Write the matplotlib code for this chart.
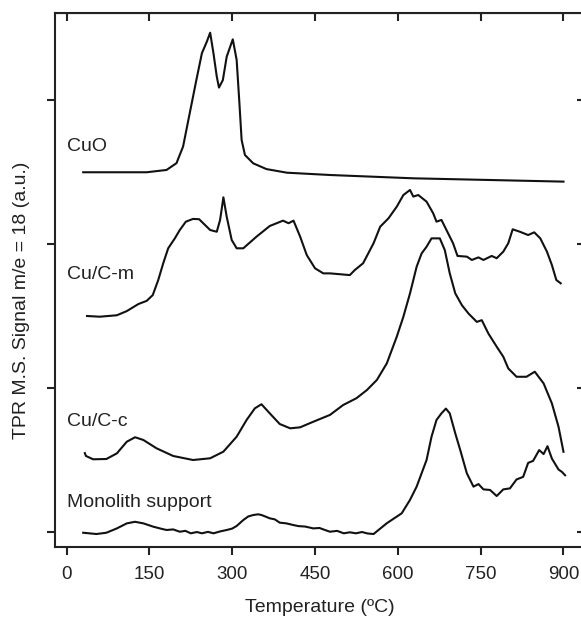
"""TPR profiles (m/e = 18) for CuO, Cu/C-m, Cu/C-c and the bare monolith."""

import matplotlib

matplotlib.use("Agg")
import matplotlib.pyplot as plt

plt.rcParams["font.family"] = ["Liberation Sans", "DejaVu Sans"]

# values; each curve already carries its vertical offset
cuo_temp = [30, 84, 145, 181, 199, 211, 223, 235, 245, 254, 260, 266, 272, 276,
            283, 290, 301, 308, 313, 317, 323, 338, 362, 399, 477, 628, 900]
cuo_signal = [2.50, 2.50, 2.50, 2.516, 2.563, 2.679, 2.91, 3.14, 3.326, 3.407,
              3.469, 3.326, 3.164, 3.088, 3.14, 3.303, 3.423, 3.28, 2.979,
              2.724, 2.62, 2.562, 2.522, 2.497, 2.481, 2.458, 2.435]

cucm_temp = [37, 60, 91, 109, 130, 145, 156, 166, 175, 184, 196, 205, 216, 229,
             240, 260, 272, 278, 284, 290, 299, 308, 320, 344, 368, 392, 402,
             411, 423, 435, 450, 465, 477, 513, 522, 537, 556, 568, 583, 598,
             610, 622, 628, 637, 652, 664, 670, 679, 691, 700, 708, 725, 734,
             746, 755, 770, 779, 791, 800, 808, 821, 836, 847, 858, 870, 879,
             887, 895]
cucm_signal = [1.502, 1.497, 1.507, 1.536, 1.585, 1.607, 1.647, 1.752, 1.868,
               1.972, 2.041, 2.099, 2.157, 2.176, 2.174, 2.099, 2.087, 2.169,
               2.326, 2.191, 2.03, 1.972, 1.972, 2.053, 2.127, 2.164, 2.146,
               2.164, 2.053, 1.925, 1.833, 1.798, 1.798, 1.786, 1.821, 1.868,
               2.007, 2.122, 2.18, 2.261, 2.342, 2.377, 2.331, 2.342, 2.296,
               2.215, 2.157, 2.169, 2.076, 2.007, 1.919, 1.914, 1.891, 1.909,
               1.891, 1.919, 1.903, 1.949, 2.007, 2.104, 2.087, 2.064, 2.083,
               2.041, 1.949, 1.856, 1.752, 1.729]

cucc_temp = [33, 35, 48, 72, 91, 109, 124, 139, 163, 193, 229, 260, 284, 308,
             326, 341, 353, 368, 386, 405, 423, 447, 477, 501, 525, 544, 562,
             580, 598, 610, 622, 634, 643, 652, 661, 676, 685, 694, 704, 716,
             728, 743, 752, 764, 779, 791, 800, 815, 833, 848, 864, 879, 891,
             900]
cucc_signal = [0.55, 0.530, 0.507, 0.509, 0.548, 0.629, 0.660, 0.641, 0.583,
               0.530, 0.502, 0.514, 0.560, 0.664, 0.780, 0.861, 0.889, 0.826,
               0.752, 0.722, 0.729, 0.768, 0.815, 0.884, 0.931, 0.988, 1.058,
               1.173, 1.358, 1.497, 1.659, 1.844, 1.936, 1.983, 2.041, 2.041,
               1.960, 1.798, 1.659, 1.577, 1.519, 1.461, 1.473, 1.380, 1.289,
               1.219, 1.138, 1.080, 1.080, 1.115, 1.034, 0.895, 0.733, 0.559]

mono_temp = [30, 54, 72, 91, 109, 124, 139, 157, 170, 181, 193, 205, 215, 225,
             236, 245, 256, 266, 278, 290, 300, 308, 320, 329, 338, 347, 353,
             361, 368, 377, 386, 398, 410, 420, 432, 447, 458, 468, 477, 490,
             502, 513, 524, 535, 545, 556, 580, 607, 622, 634, 652, 661, 670,
             679, 687, 694, 704, 713, 725, 737, 746, 755, 767, 779, 791, 803,
             815, 827, 836, 845, 856, 864, 871, 879, 891, 897, 903]
mono_signal = [-0.003, -0.012, -0.003, 0.027, 0.062, 0.073, 0.062, 0.039, 0.026,
               0.016, 0.020, 0.004, 0.010, -0.007, 0.002, -0.007, 0.003, -0.007,
               0.006, 0.016, 0.026, 0.044, 0.085, 0.110, 0.120, 0.125, 0.120,
               0.108, 0.097, 0.090, 0.067, 0.062, 0.051, 0.043, 0.040, 0.027,
               0.030, 0.016, 0.004, 0.010, -0.007, 0.000, -0.007, 0.002,
               -0.008, -0.012, 0.063, 0.132, 0.225, 0.317, 0.502, 0.664, 0.780,
               0.826, 0.859, 0.826, 0.687, 0.571, 0.409, 0.317, 0.335, 0.298,
               0.294, 0.252, 0.298, 0.305, 0.367, 0.385, 0.482, 0.496, 0.571,
               0.543, 0.598, 0.512, 0.436, 0.420, 0.396]

series_names = ["CuO", "Cu/C-m", "Cu/C-c", "Monolith support"]
label_heights = [2.68, 1.79, 0.77, 0.21]

x_ticks = [0, 150, 300, 450, 600, 750, 900]
y_ticks = [0, 1, 2, 3]


def main() -> None:
    fig = plt.figure(figsize=(5.81, 6.18), dpi=100)
    ax = fig.add_axes([0.0947, 0.1149, 0.9122, 0.8641])

    curves = [
        (cuo_temp, cuo_signal),
        (cucm_temp, cucm_signal),
        (cucc_temp, cucc_signal),
        (mono_temp, mono_signal),
    ]
    for temps, signal in curves:
        ax.plot(temps, signal, color="#111111", linewidth=1.5,
                solid_joinstyle="round")

    for name, height in zip(series_names, label_heights):
        ax.text(1, height, name, fontsize=14, va="center", ha="left",
                color="#222222")

    ax.set_xlim(-21, 939)
    ax.set_ylim(-0.102, 3.606)
    ax.set_xticks(x_ticks)
    ax.set_yticks(y_ticks)
    ax.set_yticklabels([])
    ax.tick_params(axis="both", direction="out", length=6, width=1.5,
                   labelsize=13.5, colors="#222222")
    ax.tick_params(axis="x", pad=8)
    for spine in ax.spines.values():
        spine.set_linewidth(1.5)
        spine.set_color("#222222")

    top = ax.secondary_xaxis("top")
    top.set_xticks(x_ticks)
    top.tick_params(direction="in", length=6, width=1.5, labeltop=False,
                    colors="#222222")
    right = ax.secondary_yaxis("right")
    right.set_yticks(y_ticks)
    right.tick_params(direction="in", length=6, width=1.5, labelright=False,
                      colors="#222222")

    ax.set_xlabel("Temperature (ºC)", fontsize=14, color="#222222",
                  va="center")
    ax.set_ylabel("TPR M.S. Signal m/e = 18 (a.u.)", fontsize=14,
                  color="#222222", va="center")
    ax.xaxis.set_label_coords(0.5, -0.114)
    ax.yaxis.set_label_coords(-0.063, 0.4625)

    fig.savefig("out.png", dpi=100)
    plt.close(fig)


if __name__ == "__main__":
    main()
